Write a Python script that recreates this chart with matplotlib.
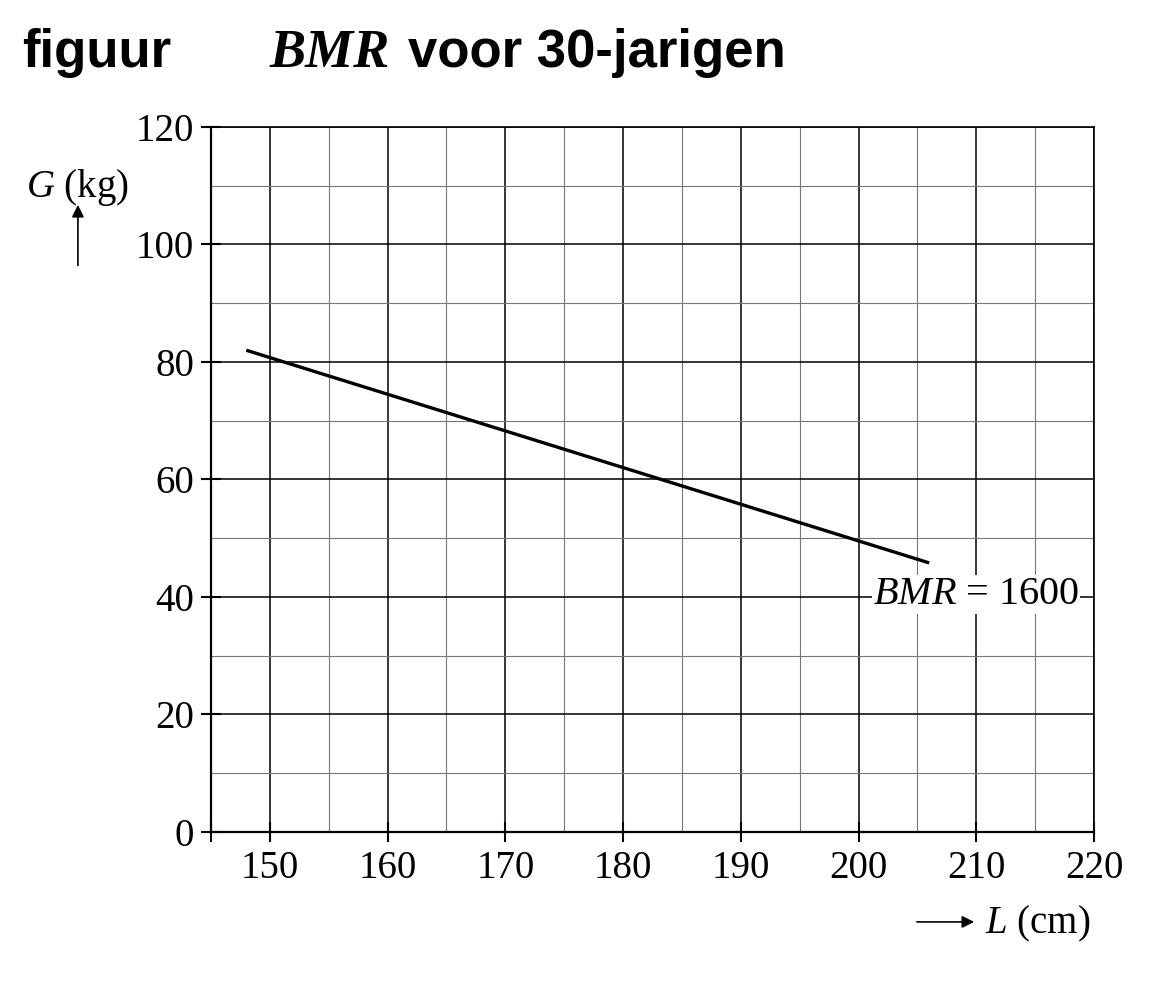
import numpy as np
import matplotlib.pyplot as plt
from matplotlib.ticker import MultipleLocator

# data
line_L = [148, 206]      # cm
line_G = [82.0, 45.8]    # kg
x_ticks = [150, 160, 170, 180, 190, 200, 210, 220]
y_ticks = [0, 20, 40, 60, 80, 100, 120]
label_text = r"$BMR$ = 1600"
label_pos = (210.0, 40.4)

plt.rcParams["mathtext.fontset"] = "custom"
plt.rcParams["mathtext.rm"] = "Liberation Serif"
plt.rcParams["mathtext.it"] = "Liberation Serif:italic"
plt.rcParams["font.family"] = "Liberation Serif"

fig = plt.figure(figsize=(11.63, 9.86), dpi=100)
ax = fig.add_axes([0.1814, 0.1562, 0.7593, 0.7150])

ax.set_xlim(145, 220)
ax.set_ylim(0, 120)

# raster: dikke lijnen op de hoofdwaarden, dunne ertussen
ax.xaxis.set_minor_locator(MultipleLocator(5))
ax.yaxis.set_minor_locator(MultipleLocator(10))
ax.grid(which="major", color="black", linewidth=1.1)
ax.grid(which="minor", color="#777777", linewidth=0.8)
ax.set_axisbelow(True)

ax.plot(line_L, line_G, color="black", linewidth=2.4, solid_capstyle="butt", zorder=3)

ax.text(label_pos[0], label_pos[1], label_text, fontsize=29, ha="center", va="center",
        bbox=dict(facecolor="white", edgecolor="none", pad=0.5), zorder=4)

ax.set_xticks([145] + x_ticks)
ax.set_xticklabels([""] + [str(v) for v in x_ticks])
ax.set_yticks(y_ticks)
ax.set_yticklabels([str(v) for v in y_ticks])
ax.tick_params(which="major", direction="inout", length=14, width=1.5, labelsize=28)
ax.tick_params(axis="x", which="major", pad=6)
ax.tick_params(axis="y", which="major", pad=5)
ax.tick_params(which="minor", length=0)

for side in ["left", "bottom"]:
    ax.spines[side].set_linewidth(1.6)
for side in ["top", "right"]:
    ax.spines[side].set_linewidth(1.2)

# titel
fig.text(0.019, 0.932, "figuur", fontsize=38, fontweight="bold",
         family="Liberation Sans", va="baseline")
fig.text(0.232, 0.932, "BMR", fontsize=39, fontweight="bold", fontstyle="italic",
         family="Liberation Serif", va="baseline")
fig.text(0.351, 0.932, "voor 30-jarigen", fontsize=38, fontweight="bold",
         family="Liberation Sans", va="baseline")

# aslabels met pijltjes
fig.text(0.067, 0.800, r"$G$ (kg)", fontsize=28, ha="center", va="baseline")
ax.annotate("", xy=(0.067, 0.795), xycoords="figure fraction",
            xytext=(0.067, 0.728), textcoords="figure fraction",
            arrowprops=dict(arrowstyle="-|>", color="black", lw=1.2, mutation_scale=18))

fig.text(0.938, 0.053, r"$L$ (cm)", fontsize=28, ha="right", va="baseline")
ax.annotate("", xy=(0.840, 0.065), xycoords="figure fraction",
            xytext=(0.786, 0.065), textcoords="figure fraction",
            arrowprops=dict(arrowstyle="-|>", color="black", lw=1.2, mutation_scale=18))

fig.savefig("out.png", dpi=100, facecolor="white")
